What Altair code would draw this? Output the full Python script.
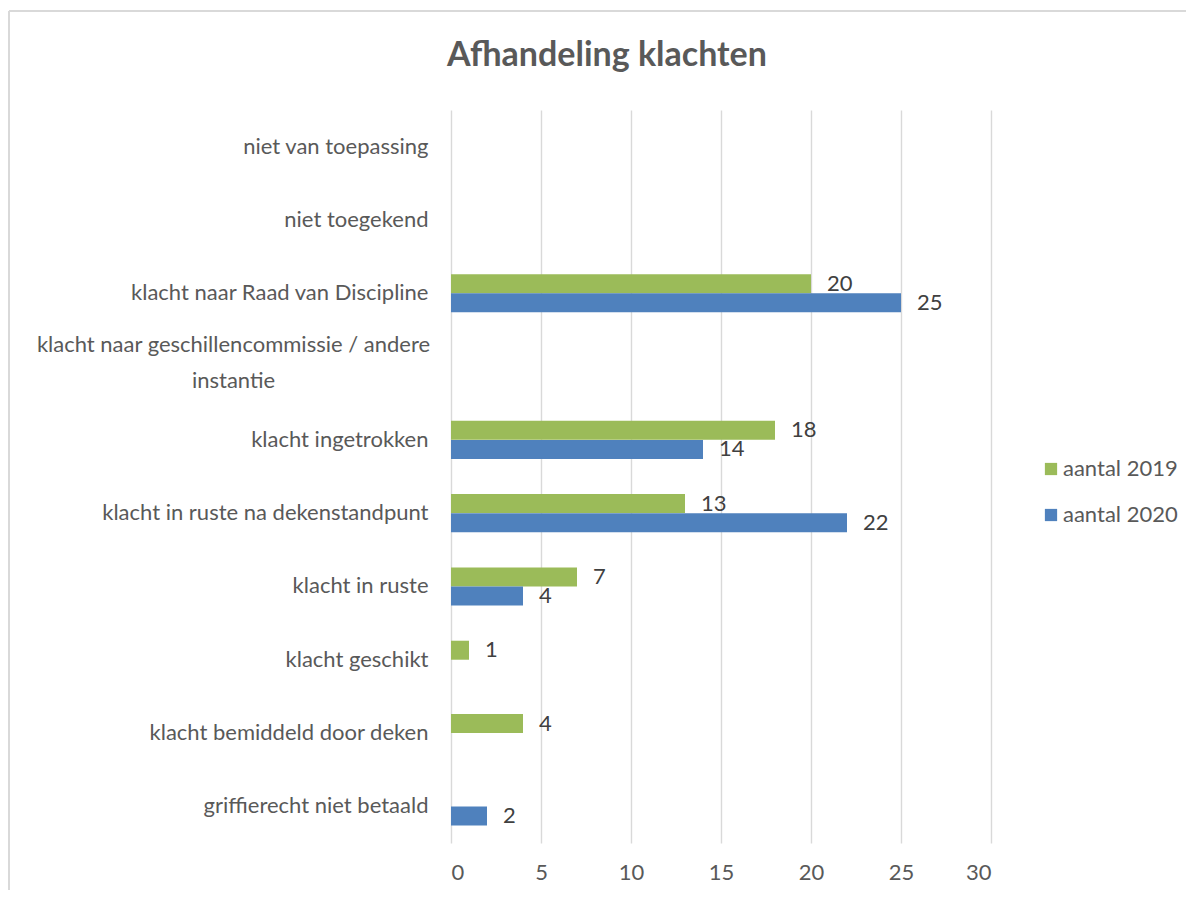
import altair as alt
import pandas as pd

categories = [
    "niet van toepassing",
    "niet toegekend",
    "klacht naar Raad van Discipline",
    "klacht naar geschillencommissie / andere instantie",
    "klacht ingetrokken",
    "klacht in ruste na dekenstandpunt",
    "klacht in ruste",
    "klacht geschikt",
    "klacht bemiddeld door deken",
    "griffierecht niet betaald",
]
aantal_2019 = [None, None, 20, None, 18, 13, 7, 1, 4, None]
aantal_2020 = [None, None, 25, None, 14, 22, 4, None, None, 2]
series = ["aantal 2019", "aantal 2020"]
colors = ["#9BBB59", "#4F81BD"]
x_ticks = [0, 5, 10, 15, 20, 25, 30]

rows = []
for c, a, b in zip(categories, aantal_2019, aantal_2020):
    rows.append({"categorie": c, "reeks": series[0], "aantal": a})
    rows.append({"categorie": c, "reeks": series[1], "aantal": b})
df = pd.DataFrame(rows)
df = df.dropna(subset=["aantal"])

FONT = "Lato"
GRAY = "#595959"
FS = 22
LONG = "klacht naar geschillencommissie / andere instantie"
is_long = f"datum.value == '{LONG}'"

y_enc = alt.Y(
    "categorie:N",
    sort=categories,
    scale=alt.Scale(domain=categories, paddingInner=0.48, paddingOuter=0.24),
    axis=alt.Axis(
        title=None,
        ticks=False,
        domain=False,
        labelFontSize=FS,
        labelColor=GRAY,
        labelFont=FONT,
        labelPadding={"condition": {"test": is_long, "value": 218}, "value": 23},
        labelAlign={"condition": {"test": is_long, "value": "center"}, "value": "right"},
        labelLimit=440,
        labelLineHeight=36,
        labelOffset={"condition": {"test": is_long, "value": -22}, "value": 0},
        labelExpr=f"datum.label == '{LONG}' ? ['klacht naar geschillencommissie / andere', 'instantie'] : datum.label",
    ),
)
x_enc = alt.X(
    "aantal:Q",
    scale=alt.Scale(domain=[0, 30], nice=False),
    axis=alt.Axis(
        title=None,
        values=x_ticks,
        ticks=False,
        domain=False,
        grid=True,
        gridColor="#D9D9D9",
        gridWidth=1.4,
        labelFontSize=FS,
        labelColor=GRAY,
        labelFont=FONT,
        labelPadding=19,
    ),
)
yoff = alt.YOffset("reeks:N", sort=series, scale=alt.Scale(domain=series, paddingInner=0, paddingOuter=0))

bars = alt.Chart(df).mark_bar(size=19).encode(
    x=x_enc,
    y=y_enc,
    yOffset=yoff,
    color=alt.Color(
        "reeks:N",
        sort=series,
        scale=alt.Scale(domain=series, range=colors),
        legend=alt.Legend(
            title=None,
            orient="none",
            legendX=589,
            legendY=348,
            symbolType="square",
            symbolSize=150,
            symbolStrokeWidth=0,
            labelFontSize=FS,
            labelColor=GRAY,
            labelFont=FONT,
            labelOffset=1,
            rowPadding=24,
            padding=0,
        ),
    ),
)

labels = alt.Chart(df).mark_text(
    align="left", baseline="middle", dx=16, fontSize=FS, color="#404040", font=FONT
).encode(
    x="aantal:Q",
    y=alt.Y("categorie:N", sort=categories),
    yOffset=alt.YOffset("reeks:N", sort=series),
    text="aantal:Q",
)

one = pd.DataFrame({"f": [0]})
frame_top = alt.Chart(one).mark_rule(stroke="#D9D9D9", strokeWidth=2).encode(
    x=alt.value(-442), x2=alt.value(900), y=alt.value(-99)
)
frame_left = alt.Chart(one).mark_rule(stroke="#D9D9D9", strokeWidth=2).encode(
    x=alt.value(-442), y=alt.value(-99), y2=alt.value(900)
)

chart = alt.layer(frame_top, frame_left, bars, labels).properties(
    width=540,
    height=733,
    title=alt.TitleParams(
        "Afhandeling klachten",
        fontSize=34,
        font=FONT,
        fontWeight="bold",
        color=GRAY,
        anchor="middle",
        dx=-114,
        offset=-63,
    ),
    padding={"left": 443, "top": 102, "right": 195, "bottom": 47},
    autosize=alt.AutoSizeParams(type="none"),
).configure_view(stroke=None)

chart.save("out.html", embed_options={"renderer": "svg", "actions": False})
